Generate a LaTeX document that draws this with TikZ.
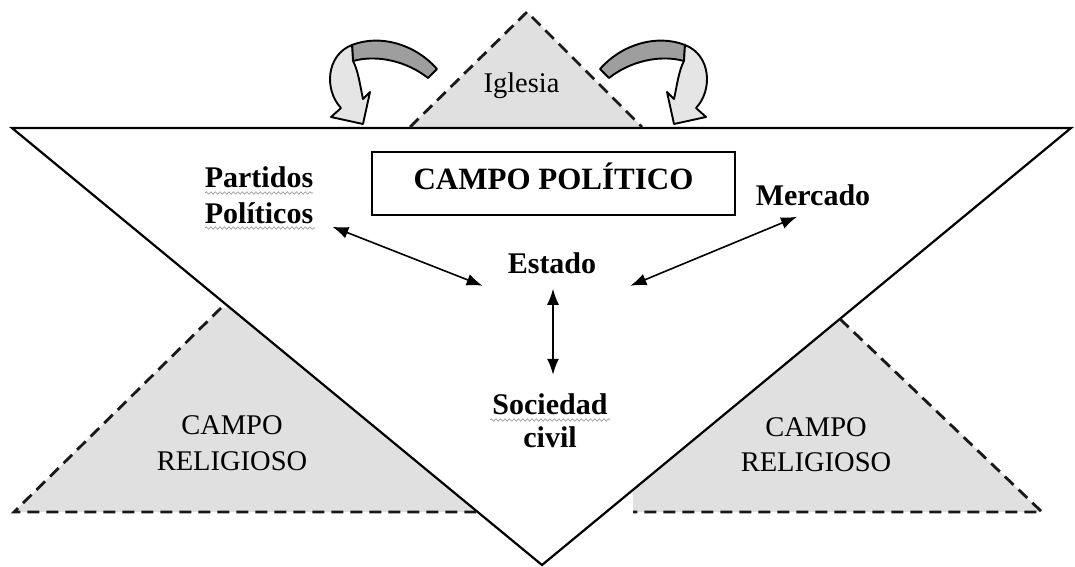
\documentclass[tikz,border=0pt]{standalone}
\usepackage{fontspec}
\setmainfont{Liberation Serif}
\usetikzlibrary{arrows.meta,decorations.pathmorphing}

% flecha curva (de la Iglesia hacia el campo)
\newcommand{\flechacurva}{%
  \filldraw[fill=black!38, curva] (437,69) .. controls (415,44) and (380,34) .. (352,45)
    -- (353,61) .. controls (378,54) and (408,62) .. (428,78) -- cycle;
  \filldraw[fill=black!10, curva] (352,45) .. controls (326,55) and (324,90) .. (341,108)
    -- (331,117) -- (363,124) -- (370,92) -- (363,99)
    .. controls (360,85) and (358,70) .. (353,61) -- cycle;
}

\begin{document}
\begin{tikzpicture}[x=1pt, y=-1pt,
  lbl/.style={font=\fontsize{30}{36}\selectfont\bfseries, inner sep=0pt, align=center},
  rel/.style={font=\fontsize{28.5}{36}\selectfont, inner sep=0pt, align=center},
  zona/.style={fill=black!12},
  borde/.style={line width=2.8pt, dash pattern=on 12pt off 7pt, black!90},
  flecha/.style={line width=1.6pt, {Latex[length=16pt,width=12pt]}-{Latex[length=16pt,width=12pt]}},
  wavy/.style={black!45, line width=0.6pt, decorate, decoration={snake, amplitude=1.2pt, segment length=4.5pt}},
  curva/.style={draw=black, line width=1.9pt, line join=round}]
  \useasboundingbox (0,0) rectangle (1075,566);
  % triangulo invertido: campo politico
  \coordinate (L) at (12,128);
  \coordinate (R) at (1071,128);
  \coordinate (V) at (542,565);
  % zonas grises (campo religioso e Iglesia)
  \fill[zona] (410,127) -- (527,12) -- (642,127) -- cycle;
  \fill[zona] (14,512) -- (221,308) -- (230,308) -- (478,512) -- cycle;
  \fill[zona] (633,490) -- (840,319) -- (1042,512) -- (633,512) -- cycle;
  \draw[line width=2.2pt] (L) -- (R) -- (V) -- cycle;
  \draw[borde] (410,127) -- (527,12) -- (642,127);
  \draw[borde] (221,308) -- (14,512) -- (477,512);
  \draw[borde] (840,319) -- (1042,512) -- (633,512);
  % flechas curvas
  \flechacurva
  \begin{scope}[shift={(1037,0)}, xscale=-1]
    \flechacurva
  \end{scope}
  % textos
  \node[rel, anchor=base] (iglesia) at (521.5,92) {Iglesia};
  \node[draw, line width=1.5pt, minimum width=363pt, minimum height=63pt,
        text height=22pt, text depth=11pt,
        font=\fontsize{31}{36}\selectfont\bfseries] (politico) at (553.5,183.5) {CAMPO POLÍTICO};
  \node[lbl, align=left] (partidos) at (259,195) {Partidos\\Políticos};
  \node[lbl] (mercado) at (813,195) {Mercado};
  \node[lbl] (estado) at (552,263) {Estado};
  \node[lbl, font=\fontsize{30}{33}\selectfont\bfseries] (sociedad) at (550,421) {Sociedad\\civil};
  \node[rel] (relizq) at (232,443.5) {CAMPO\\RELIGIOSO};
  \node[rel, font=\fontsize{28.5}{35}\selectfont] (relder) at (816,445) {CAMPO\\RELIGIOSO};
  % subrayado del corrector
  \draw[wavy] (205,193) -- (313,193);
  \draw[wavy] (205,228) -- (315,228);
  \draw[wavy] (490,420) -- (610,420);
  % relaciones con el Estado
  \draw[flecha] ([shift={(19,3)}]partidos.south east) -- ([shift={(-25,12)}]estado.south west);
  \draw[flecha] ([shift={(-16,11)}]mercado.south) -- ([shift={(34,12)}]estado.south east);
  \draw[flecha] ([shift={(1,15)}]estado.south) -- ([shift={(3,-19)}]sociedad.north);
\end{tikzpicture}
\end{document}
